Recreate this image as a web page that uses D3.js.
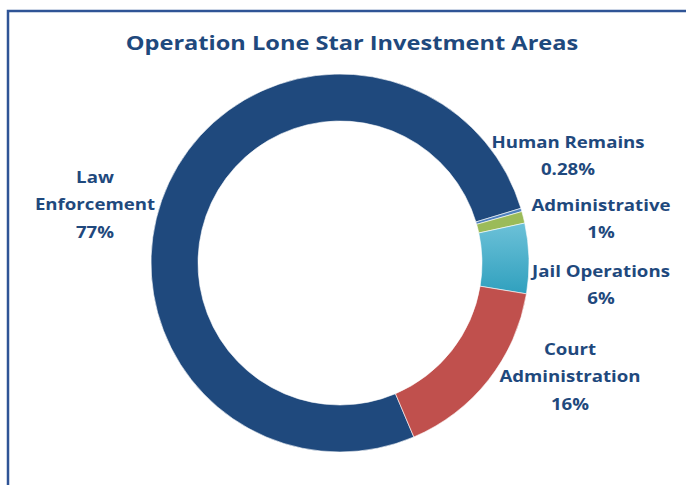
<!DOCTYPE html>
<html>
<head>
<meta charset="utf-8">
<script src="https://cdn.jsdelivr.net/npm/d3@7"></script>
<style>
  body { margin: 0; background: #fff; }
  text { font-family: "Open Sans", Lato, sans-serif; font-weight: 700; fill: #1f497d; }
</style>
</head>
<body>
<div id="chart"></div>
<script>
// investment areas, in the order they run clockwise round the ring
let categories = ["Law Enforcement", "Human Remains", "Administrative", "Jail Operations", "Court Administration"];
let shares = [76.72, 0.28, 1, 6, 16];   // percent of total
let labelLines = [["Law", "Enforcement"], ["Human Remains"], ["Administrative"], ["Jail Operations"], ["Court", "Administration"]];
let colors = ["#1f497d", "#4f81bd", "#9bbb59", "url(#jailGrad)", "#c0504d"];

let width = 686, height = 485;
let cx = 340, cy = 263;
let outerR = 189, innerR = 142;
let startDeg = 157;

// where each label block sits (centre x, first baseline y)
let labelPos = [[95, 183], [568, 148], [601, 211], [601, 277], [570, 355]];
let lineGap = 27.3;
let labelStretch = 1.13;   // reference face is wider than Open Sans
let titleStretch = 1.18;

let svg = d3.select("#chart").append("svg")
    .attr("width", width)
    .attr("height", height);

let grad = svg.append("defs").append("linearGradient")
    .attr("id", "jailGrad")
    .attr("x1", 0).attr("y1", 0).attr("x2", 0).attr("y2", 1);
grad.append("stop").attr("offset", "0%").attr("stop-color", "#6cc1d8");
grad.append("stop").attr("offset", "100%").attr("stop-color", "#30a0be");

// frame
svg.append("rect")
    .attr("x", 8)
    .attr("y", 11)
    .attr("width", width + 10)
    .attr("height", height + 10)
    .attr("fill", "none")
    .attr("stroke", "#2f5496")
    .attr("stroke-width", 2.5);

function stretchX(x, s) {
    return `translate(${x},0) scale(${s},1) translate(${-x},0)`;
}

svg.append("text")
    .attr("x", 352)
    .attr("y", 50)
    .attr("text-anchor", "middle")
    .attr("transform", stretchX(352, titleStretch))
    .style("font-size", "20px")
    .text("Operation Lone Star Investment Areas");

let pie = d3.pie()
    .sort(null)
    .value(d => d)
    .startAngle(startDeg * Math.PI / 180)
    .endAngle(startDeg * Math.PI / 180 + 2 * Math.PI);

let arc = d3.arc()
    .innerRadius(innerR)
    .outerRadius(outerR);

let g = svg.append("g").attr("transform", `translate(${cx},${cy})`);

g.selectAll("path")
    .data(pie(shares))
    .join("path")
    .attr("d", arc)
    .attr("fill", (d, i) => colors[i])
    .attr("stroke", "#ffffff")
    .attr("stroke-width", 0.6);

function pctText(v) {
    return (v < 1 ? v.toFixed(2) : Math.round(v)) + "%";
}

let labels = svg.selectAll(".slabel")
    .data(categories)
    .join("text")
    .attr("class", "slabel")
    .attr("text-anchor", "middle")
    .style("font-size", "16.5px")
    .attr("x", (d, i) => labelPos[i][0])
    .attr("y", (d, i) => labelPos[i][1])
    .attr("transform", (d, i) => stretchX(labelPos[i][0], labelStretch));

labels.each(function(d, i) {
    let lines = labelLines[i].concat([pctText(shares[i])]);
    d3.select(this).selectAll("tspan")
        .data(lines)
        .join("tspan")
        .attr("x", labelPos[i][0])
        .attr("dy", (l, j) => j === 0 ? 0 : lineGap)
        .text(l => l);
});
</script>
</body>
</html>
